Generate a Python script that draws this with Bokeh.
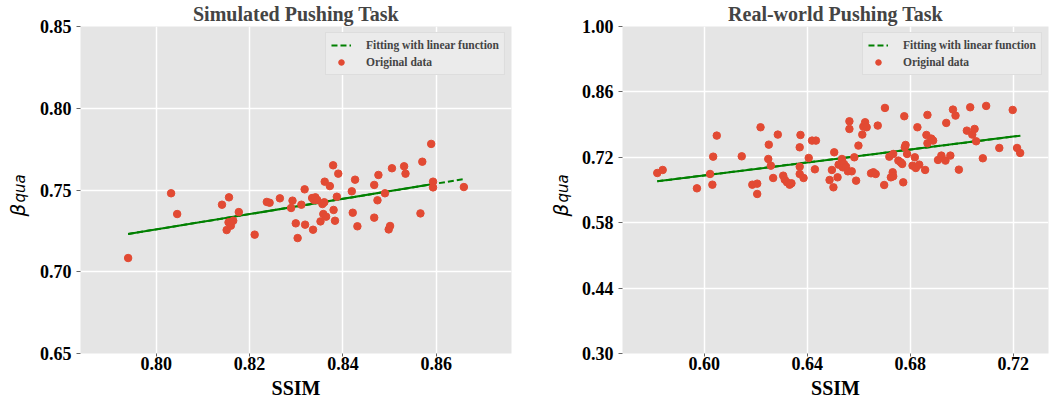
import numpy as np
from bokeh.plotting import figure
from bokeh.layouts import row
from bokeh.models import Range1d, FixedTicker, PrintfTickFormatter
from bokeh.core.properties import value
from bokeh.embed import file_html
from bokeh.resources import INLINE

# ---------------- data: Simulated Pushing Task ----------------
sim_ssim = [0.7940, 0.8032, 0.8045, 0.8141, 0.8156, 0.8151, 0.8155, 0.8160, 0.8165, 0.8177,
            0.8211, 0.8237, 0.8243, 0.8265, 0.8289, 0.8292, 0.8299, 0.8303, 0.8311, 0.8318,
            0.8319, 0.8334, 0.8336, 0.8338, 0.8341, 0.8345, 0.8352, 0.8356, 0.8358, 0.8360,
            0.8361, 0.8364, 0.8372, 0.8379, 0.8380, 0.8383, 0.8387, 0.8390, 0.8419, 0.8421,
            0.8426, 0.8431, 0.8467, 0.8467, 0.8474, 0.8476, 0.8490, 0.8498, 0.8501, 0.8505,
            0.8531, 0.8534, 0.8566, 0.8570, 0.8589, 0.8593, 0.8593, 0.8659]
sim_beta = [0.7084, 0.7480, 0.7353, 0.7410, 0.7455, 0.7255, 0.7302, 0.7282, 0.7312, 0.7365,
            0.7227, 0.7427, 0.7422, 0.7449, 0.7390, 0.7435, 0.7296, 0.7206, 0.7410, 0.7504,
            0.7288, 0.7451, 0.7257, 0.7439, 0.7455, 0.7439, 0.7308, 0.7414, 0.7353, 0.7425,
            0.7551, 0.7337, 0.7524, 0.7651, 0.7378, 0.7312, 0.7459, 0.7600, 0.7492, 0.7361,
            0.7563, 0.7278, 0.7531, 0.7331, 0.7437, 0.7592, 0.7480, 0.7259, 0.7280, 0.7633,
            0.7645, 0.7600, 0.7357, 0.7673, 0.7782, 0.7551, 0.7516, 0.7518]
sim_fit_ssim = [0.7940, 0.8659]
sim_fit_beta = [0.7231, 0.7567]
sim_xticks = [0.80, 0.82, 0.84, 0.86]
sim_yticks = [0.65, 0.70, 0.75, 0.80, 0.85]

# ---------------- data: Real-world Pushing Task ----------------
real_ssim = [0.5818, 0.5839, 0.5972, 0.6023, 0.6032, 0.6035, 0.6049, 0.6146, 0.6187, 0.6206,
             0.6206, 0.6219, 0.6251, 0.6249, 0.6259, 0.6268, 0.6286, 0.6307, 0.6313, 0.6322,
             0.6332, 0.6339, 0.6371, 0.6374, 0.6371, 0.6371, 0.6386, 0.6406, 0.6419, 0.6434,
             0.6430, 0.6487, 0.6496, 0.6505, 0.6502, 0.6518, 0.6522, 0.6535, 0.6538, 0.6543,
             0.6551, 0.6558, 0.6564, 0.6564, 0.6573, 0.6583, 0.6590, 0.6599, 0.6614, 0.6618,
             0.6625, 0.6631, 0.6648, 0.6657, 0.6666, 0.6674, 0.6702, 0.6699, 0.6719, 0.6725,
             0.6732, 0.6734, 0.6734, 0.6754, 0.6763, 0.6769, 0.6773, 0.6777, 0.6779, 0.6782,
             0.6788, 0.6809, 0.6818, 0.6822, 0.6828, 0.6835, 0.6858, 0.6863, 0.6867, 0.6867,
             0.6882, 0.6889, 0.6908, 0.6921, 0.6937, 0.6940, 0.6956, 0.6966, 0.6976, 0.6989,
             0.7020, 0.7033, 0.7041, 0.7050, 0.7056, 0.7082, 0.7095, 0.7146, 0.7198, 0.7215,
             0.7227]
real_beta = [0.6864, 0.6929, 0.6536, 0.6843, 0.6614, 0.7214, 0.7664, 0.7221, 0.6614, 0.6636,
             0.6415, 0.7843, 0.7471, 0.7164, 0.7021, 0.6757, 0.7686, 0.6807, 0.6721, 0.6664,
             0.6614, 0.6643, 0.7414, 0.7678, 0.7000, 0.6843, 0.6757, 0.7186, 0.7557, 0.7557,
             0.6943, 0.6714, 0.6929, 0.7307, 0.6557, 0.6771, 0.7043, 0.7164, 0.6986, 0.7057,
             0.7000, 0.6900, 0.7971, 0.7807, 0.6900, 0.7200, 0.6700, 0.7450, 0.7686, 0.7857,
             0.7950, 0.7843, 0.6857, 0.6879, 0.6843, 0.7879, 0.8257, 0.6607, 0.7214, 0.6771,
             0.6879, 0.6793, 0.7271, 0.7129, 0.7093, 0.7057, 0.6664, 0.8079, 0.7414, 0.7464,
             0.7271, 0.7021, 0.7200, 0.6971, 0.7843, 0.7043, 0.6929, 0.7678, 0.8107, 0.7500,
             0.7600, 0.7557, 0.7143, 0.7236, 0.7129, 0.7936, 0.7236, 0.8221, 0.8093, 0.6936,
             0.7771, 0.8271, 0.7686, 0.7807, 0.7543, 0.7179, 0.8300, 0.7400, 0.8214, 0.7400,
             0.7293]
real_fit_ssim = [0.5818, 0.7230]
real_fit_beta = [0.6686, 0.7664]
real_xticks = [0.60, 0.64, 0.68, 0.72]
real_yticks = [0.30, 0.44, 0.58, 0.72, 0.86, 1.00]

TITLES = ["Simulated Pushing Task", "Real-world Pushing Task"]
XLABEL = "SSIM"
YLABEL = ("β", "qua")   # beta with subscript "qua"
LEGEND = ["Fitting with linear function", "Original data"]

RED = "#E24A33"
GREEN = "#008000"
SERIF = "Liberation Serif"
H = 404
FRAME_TOP, FRAME_BOTTOM = 26, 353   # page rows of the plotting frame


def ylabel_panel(width, beta_x, qua_x):
    """narrow panel carrying the rotated y label beta_qua (y data = H - page row)"""
    q = figure(width=width, height=H, output_backend="svg", toolbar_location=None,
               x_axis_location=None, y_axis_location=None,
               x_range=Range1d(0, width), y_range=Range1d(H - FRAME_BOTTOM, H - FRAME_TOP),
               min_border=0, min_border_left=0, min_border_right=0,
               min_border_top=FRAME_TOP, min_border_bottom=H - FRAME_BOTTOM)
    q.xgrid.visible = False
    q.ygrid.visible = False
    q.outline_line_color = None
    q.background_fill_color = "white"
    q.border_fill_color = "white"
    q.text(x=[beta_x], y=[H - 216], text=[YLABEL[0]], angle=np.pi / 2,
           text_font=value("DejaVu Sans"), text_font_style="italic",
           text_font_size="20px", text_align="left", text_baseline="alphabetic",
           text_color="black")
    q.text(x=[qua_x], y=[H - 202], text=[YLABEL[1]], angle=np.pi / 2,
           text_font=value("DejaVu Sans"), text_font_style="italic",
           text_font_size="15px", text_align="left", text_baseline="alphabetic",
           text_color="black")
    return q


def make_plot(title, xs, ys, fit_x, fit_y, xticks, yticks, xr, yr, width,
              border_left, border_right):
    p = figure(width=width, height=H, output_backend="svg", toolbar_location=None,
               x_range=Range1d(*xr), y_range=Range1d(*yr),
               min_border_left=border_left, min_border_right=border_right,
               min_border_top=FRAME_TOP, min_border_bottom=H - FRAME_BOTTOM)
    p.title.text = title
    p.title.align = "center"
    p.title.vertical_align = "top"
    p.title.text_font = SERIF
    p.title.text_font_style = "bold"
    p.title.text_font_size = "20px"
    p.title.standoff = 0
    p.title.offset = 0

    p.background_fill_color = "#E5E5E5"
    p.border_fill_color = "white"
    p.outline_line_color = None
    for g in (p.xgrid, p.ygrid):
        g.grid_line_color = "white"
        g.grid_line_width = 1.5

    p.xaxis.ticker = FixedTicker(ticks=xticks)
    p.yaxis.ticker = FixedTicker(ticks=yticks)
    p.xaxis.formatter = PrintfTickFormatter(format="%.2f")
    p.yaxis.formatter = PrintfTickFormatter(format="%.2f")
    for ax in (p.xaxis, p.yaxis):
        ax.axis_line_color = None
        ax.major_tick_in = 0
        ax.minor_tick_line_color = None
        ax.major_tick_line_color = "#666666"
        ax.major_label_text_font = SERIF
        ax.major_label_text_font_style = "bold"
        ax.major_label_text_font_size = "18px"
        ax.major_label_text_color = "black"
    p.yaxis.major_tick_out = 4
    p.yaxis.major_label_standoff = 5
    p.xaxis.major_tick_out = 3
    p.xaxis.major_label_standoff = 0
    p.xaxis.axis_label = XLABEL
    p.xaxis.axis_label_text_font = SERIF
    p.xaxis.axis_label_text_font_style = "bold"
    p.xaxis.axis_label_text_font_size = "20px"
    p.xaxis.axis_label_text_color = "black"
    p.xaxis.axis_label_standoff = 4

    # fitted line: dashed over the full range, solid where repeated passes overlap
    p.line(fit_x, fit_y, line_color=GREEN, line_width=2, line_dash="6 3",
           legend_label=LEGEND[0])
    sx = np.sort(np.asarray(xs))
    xs_solid = np.array([fit_x[0], sx[-2]])
    ys_solid = np.interp(xs_solid, fit_x, fit_y)
    p.line(xs_solid, ys_solid, line_color=GREEN, line_width=2)

    p.scatter(xs, ys, size=7.5, fill_color=RED, line_color=RED,
              legend_label=LEGEND[1])

    lg = p.legend[0]
    lg.location = "top_right"
    lg.margin = 6
    lg.padding = 5
    lg.spacing = 3
    lg.label_height = 14
    lg.glyph_height = 14
    lg.glyph_width = 20
    lg.label_standoff = 15
    lg.label_text_font = SERIF
    lg.label_text_font_style = "bold"
    lg.label_text_font_size = "11.5px"
    lg.background_fill_color = "#EBEBEB"
    lg.background_fill_alpha = 1.0
    lg.border_line_color = "#D0D0D0"
    lg.border_line_width = 1
    return p


lab1 = ylabel_panel(36, 17, 19)
p1 = make_plot(TITLES[0], sim_ssim, sim_beta, sim_fit_ssim, sim_fit_beta,
               sim_xticks, sim_yticks, (0.7838, 0.8761), (0.65, 0.85),
               512, 40, 37)
lab2 = ylabel_panel(30, 12, 14)
p2 = make_plot(TITLES[1], real_ssim, real_beta, real_fit_ssim, real_fit_beta,
               real_xticks, real_yticks, (0.5683, 0.7337), (0.30, 1.00),
               472, 42, 2)

layout = row(lab1, p1, lab2, p2)
open("out.html", "w").write(file_html(layout, INLINE))
